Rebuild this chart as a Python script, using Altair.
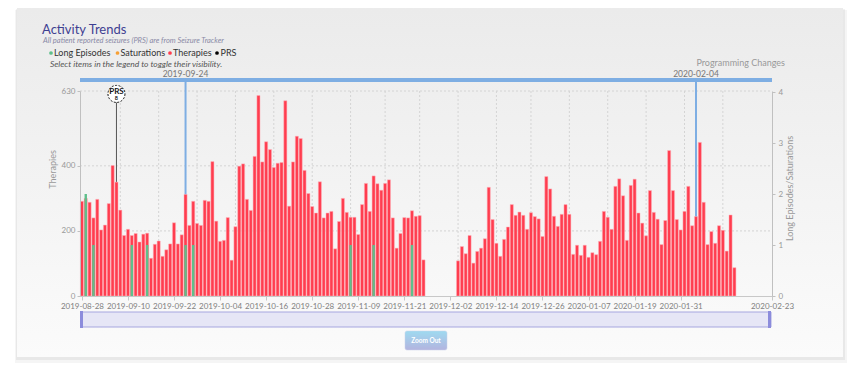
import altair as alt
import pandas as pd

# ---------------- data ----------------
seg1_days = list(range(0, 90))      # 2019-08-28 .. 2019-11-25
seg2_days = list(range(98, 171))    # 2019-12-04 .. 2020-02-14
therapies_1 = [291, 300, 288, 240, 297, 203, 218, 284, 401, 350,
               264, 186, 205, 186, 192, 166, 190, 193, 116, 159,
               169, 122, 142, 160, 225, 160, 188, 312, 217, 291,
               223, 217, 294, 291, 413, 230, 168, 171, 241, 110,
               213, 399, 406, 297, 263, 429, 616, 412, 474, 450,
               395, 408, 410, 600, 276, 412, 491, 484, 386, 315,
               275, 255, 351, 240, 255, 260, 145, 229, 300, 257,
               242, 242, 189, 281, 346, 260, 369, 345, 325, 346,
               357, 240, 147, 192, 241, 240, 262, 245, 247, 111]
therapies_2 = [108, 152, 130, 186, 101, 137, 147, 176, 334, 235,
               162, 122, 174, 212, 281, 248, 258, 248, 205, 256,
               244, 237, 183, 367, 329, 245, 214, 251, 281, 251,
               128, 156, 125, 156, 119, 133, 127, 168, 260, 242,
               205, 337, 360, 308, 171, 340, 359, 255, 224, 185,
               324, 257, 236, 158, 232, 447, 324, 235, 203, 260,
               337, 216, 244, 472, 288, 158, 198, 162, 216, 202,
               138, 249, 87]
episode_days = [1, 3, 13, 17, 27, 29, 70, 76, 86]
episode_vals = [2, 1, 1, 1, 1, 1, 1, 1, 1]
prs_days = [9]
prs_counts = ["8"]
prs_flag_y = [621]
prs_anchor = [350]
change_days = [27, 160]
change_labels = ["2019-09-24", "2020-02-04"]
xtick_days = [0, 12, 24, 36, 48, 60, 72, 84, 96, 108, 120, 132, 144, 156, 179.8]
xtick_labels = ["2019-08-28", "2019-09-10", "2019-09-22", "2019-10-04", "2019-10-16",
                "2019-10-28", "2019-11-09", "2019-11-21", "2019-12-02", "2019-12-14",
                "2019-12-26", "2020-01-07", "2020-01-19", "2020-01-31", "2020-02-23"]
vgrid_days = [10, 20, 30, 40, 50, 60, 70, 79, 88, 98, 108, 117, 127, 137, 147, 157, 167]
left_ticks = [0, 200, 400, 630]
right_ticks = [0, 1, 2, 3, 4]
legend_labels = ["Long Episodes", "Saturations", "Therapies", "PRS"]
legend_colors = ["#5fbf8b", "#f7a035", "#ff3d4f", "#000000"]

# ---------------- tables ----------------
df_ther = pd.DataFrame({"day": seg1_days + seg2_days, "therapies": therapies_1 + therapies_2})
df_epi = pd.DataFrame({"day": episode_days, "episodes": episode_vals})
df_prs = pd.DataFrame({"day": prs_days, "count": prs_counts, "top": prs_flag_y, "anchor": prs_anchor})
df_chg = pd.DataFrame({"day": change_days, "label": change_labels})
df_vgrid = pd.DataFrame({"day": vgrid_days})
df_hgrid = pd.DataFrame({"v": left_ticks[1:]})
one = pd.DataFrame({"k": [0]})

W, H = 692, 205
FONT = "Lato"
xscale = alt.Scale(domain=[-0.5, 179.8], nice=False, zero=False, padding=0)
yscale = alt.Scale(domain=[0, 630], nice=False, zero=True)
rscale = alt.Scale(domain=[0, 4.02], nice=False, zero=True)

label_map = "{" + ",".join(f"'{d}':'{l}'" for d, l in zip(xtick_days, xtick_labels)) + "}"
xaxis = alt.Axis(values=xtick_days, labelExpr=label_map + "[''+datum.value]",
                 title=None, grid=False, labelOverlap=False, labelFlush=False,
                 labelBound=False, domainColor="#c8c8c8", tickColor="#c8c8c8",
                 tickSize=4, labelColor="#808080", labelFontSize=8,
                 labelFont=FONT, labelPadding=2, zindex=1)
xenc = alt.X("day:Q", scale=xscale, axis=xaxis)


def grad(c1, c2):
    return alt.Gradient(gradient="linear",
                        stops=[alt.GradientStop(color=c1, offset=0),
                               alt.GradientStop(color=c2, offset=1)],
                        x1=0, x2=0, y1=0, y2=1)


# card with shadow
shadow1 = alt.Chart(one).mark_rect(color="#000000", opacity=0.04).encode(
    x=alt.value(-65), x2=alt.value(767), y=alt.value(-81), y2=alt.value(272))
shadow2 = alt.Chart(one).mark_rect(color="#000000", opacity=0.05).encode(
    x=alt.value(-64), x2=alt.value(765), y=alt.value(-82), y2=alt.value(269))
card = alt.Chart(one).mark_rect(color=grad("#ebebeb", "#fbfbfb")).encode(
    x=alt.value(-63), x2=alt.value(763), y=alt.value(-83), y2=alt.value(266))

# grids
vgrid = alt.Chart(df_vgrid).mark_rule(color="#d4d4d4", strokeDash=[2, 2], strokeWidth=1).encode(
    x=xenc, y=alt.value(0), y2=alt.value(H))
hgrid = alt.Chart(df_hgrid).mark_rule(color="#d4d4d4", strokeDash=[2, 2], strokeWidth=1).encode(
    y=alt.Y("v:Q", scale=yscale, axis=None), x=alt.value(0), x2=alt.value(W))

# programming changes
chg_rules = alt.Chart(df_chg).mark_rule(color="#7eaee3", strokeWidth=2).encode(
    x=xenc, y=alt.value(-10), y2=alt.value(H))
chg_band = alt.Chart(one).mark_rect(color="#7eaee3").encode(
    x=alt.value(0), x2=alt.value(W), y=alt.value(-13), y2=alt.value(-9))
chg_text = alt.Chart(df_chg).mark_text(font=FONT, fontSize=8.5, color="#777777", baseline="middle").encode(
    x=xenc, y=alt.value(-17.5), text="label:N")
chg_title = alt.Chart(one).mark_text(font=FONT, fontSize=9, color="#999999", align="right",
                                     baseline="middle", text="Programming Changes").encode(
    x=alt.value(705), y=alt.value(-28))

# PRS flag line
prs_line = alt.Chart(df_prs).mark_rule(color="#555555", strokeWidth=1).encode(
    x=xenc, y=alt.Y("top:Q", scale=yscale, axis=None), y2="anchor:Q")

# therapies bars with axes
bars = alt.Chart(df_ther).mark_bar(orient="vertical", size=3.1, color="#ff3d4f",
                                   stroke="#ffb3bb", strokeWidth=0.5).encode(
    x=xenc,
    y=alt.Y("therapies:Q", scale=yscale,
            axis=alt.Axis(orient="left", values=left_ticks, title="Therapies", grid=False,
                          domainColor="#c0c0c0", tickColor="#c0c0c0", tickSize=3,
                          labelColor="#999999", labelFontSize=8, labelFont=FONT, labelPadding=2,
                          titleColor="#999999", titleFontSize=9, titleFont=FONT,
                          titleFontWeight="normal", titleAngle=270, titleX=-28, titleY=78,
                          titleAlign="center", titleBaseline="middle", zindex=1)),
)

# long episodes bars (right axis)
epi = alt.Chart(df_epi).mark_bar(orient="vertical", size=2.4, color="#5fbf8b").encode(
    x=xenc,
    y=alt.Y("episodes:Q", scale=rscale,
            axis=alt.Axis(orient="right", values=right_ticks, format="d",
                          title="Long Episodes/Saturations", grid=False,
                          domainColor="#c0c0c0", tickColor="#c0c0c0", tickSize=3,
                          labelColor="#999999", labelFontSize=8, labelFont=FONT, labelPadding=3,
                          titleColor="#999999", titleFontSize=9, titleFont=FONT,
                          titleFontWeight="normal", titleAngle=270, titleX=17, titleY=97,
                          titleAlign="center", titleBaseline="middle", zindex=1)),
)

# PRS flag
prs_circle = alt.Chart(df_prs).mark_point(shape="circle", size=290, filled=True, fill="white",
                                          stroke="#111111", strokeDash=[2, 1.5], strokeWidth=1,
                                          opacity=1).encode(
    x=xenc, y=alt.Y("top:Q", scale=yscale, axis=None))
prs_text = alt.Chart(df_prs).mark_text(font=FONT, fontSize=8, fontWeight="bold", color="#111111",
                                       baseline="middle", dy=-2, text="PRS").encode(
    x=xenc, y=alt.Y("top:Q", scale=yscale, axis=None))
prs_count = alt.Chart(df_prs).mark_text(font=FONT, fontSize=5.5, fontWeight="bold", color="#111111",
                                        baseline="middle", dy=4.5).encode(
    x=xenc, y=alt.Y("top:Q", scale=yscale, axis=None), text="count:N")

# title block
title = alt.Chart(one).mark_text(font=FONT, fontSize=13, color="#3e3f92", align="left",
                                 baseline="middle", text="Activity Trends").encode(
    x=alt.value(-38), y=alt.value(-61))
subtitle = alt.Chart(one).mark_text(font=FONT, fontSize=7.5, fontStyle="italic", color="#8a8aa6",
                                    align="left", baseline="middle",
                                    text="All patient reported seizures (PRS) are from Seizure Tracker").encode(
    x=alt.value(-37), y=alt.value(-50))
hint = alt.Chart(one).mark_text(font=FONT, fontSize=8.5, fontStyle="italic", color="#555555",
                                align="left", baseline="middle",
                                text="Select items in the legend to toggle their visibility.").encode(
    x=alt.value(-30), y=alt.value(-27))

leg_dot_x = [-29, 37.5, 90, 137]
leg_txt_x = [-26, 40.5, 93, 140.5]
legend_layers = []
for lab, col, dx, tx in zip(legend_labels, legend_colors, leg_dot_x, leg_txt_x):
    legend_layers.append(alt.Chart(one).mark_circle(size=14, color=col, opacity=1).encode(
        x=alt.value(dx), y=alt.value(-38)))
    legend_layers.append(alt.Chart(one).mark_text(font=FONT, fontSize=9, color="#333333",
                                                  align="left", baseline="middle", text=lab).encode(
        x=alt.value(tx), y=alt.value(-38)))

# navigator + zoom button
nav = alt.Chart(one).mark_rect(color="#e6e6f6", stroke="#a6a6df", strokeWidth=1).encode(
    x=alt.value(0.5), x2=alt.value(691), y=alt.value(221), y2=alt.value(236))
nav_l = alt.Chart(one).mark_rect(color="#8c8cdc").encode(
    x=alt.value(0), x2=alt.value(3), y=alt.value(220), y2=alt.value(237))
nav_r = alt.Chart(one).mark_rect(color="#8c8cdc").encode(
    x=alt.value(688), x2=alt.value(691), y=alt.value(220), y2=alt.value(237))
btn = alt.Chart(one).mark_rect(color=grad("#9edaf0", "#b3b4df"), cornerRadius=2,
                               stroke="#c8d0e8", strokeWidth=0.5).encode(
    x=alt.value(325), x2=alt.value(367), y=alt.value(240), y2=alt.value(259))
btn_text = alt.Chart(one).mark_text(font=FONT, fontSize=6.5, fontWeight="bold", color="white",
                                    baseline="middle", text="Zoom Out").encode(
    x=alt.value(346), y=alt.value(249.5))

chart = alt.layer(
    shadow1, shadow2, card, vgrid, hgrid, chg_rules, chg_band, chg_text, chg_title,
    prs_line, bars, epi, prs_circle, prs_text, prs_count,
    title, subtitle, hint, *legend_layers, nav, nav_l, nav_r, btn, btn_text
).resolve_scale(y="independent").properties(
    width=W, height=H,
    padding={"left": 72, "top": 83, "right": 80, "bottom": 78},
    autosize=alt.AutoSizeParams(type="none"),
    background="white",
).configure_view(stroke=None).configure(font=FONT)

chart.save("out.html", embed_options={"renderer": "svg", "actions": False})
